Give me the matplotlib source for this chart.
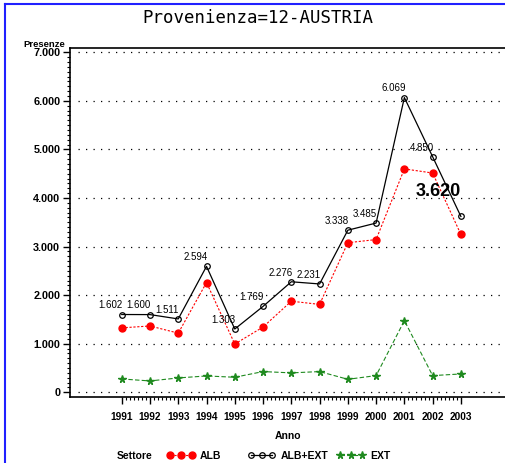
import matplotlib
matplotlib.use("Agg")
import matplotlib.pyplot as plt
import numpy as np
from matplotlib.lines import Line2D
from matplotlib.ticker import MultipleLocator, FuncFormatter, FixedLocator

years = [1991, 1992, 1993, 1994, 1995, 1996, 1997, 1998, 1999, 2000, 2001, 2002, 2003]
alb_ext = [1602, 1600, 1511, 2594, 1303, 1769, 2276, 2231, 3338, 3485, 6069, 4850, 3620]
alb = [1327, 1366, 1218, 2260, 994, 1344, 1876, 1810, 3080, 3145, 4600, 4515, 3250]
ext = [275, 234, 296, 337, 310, 427, 400, 427, 268, 344, 1476, 344, 378]

title = "Provenienza=12-AUSTRIA"
series_names = ["ALB", "ALB+EXT", "EXT"]
green = "#1f8a1f"


def it_thousands(v, _pos=None):
    return f"{int(round(v)):,}".replace(",", ".")


cond = dict(family="Liberation Sans", fontweight="bold")

styles = [
    dict(color="red", linestyle=(0, (2, 1.5)), linewidth=0.8, marker="o",
         markersize=5, markerfacecolor="red", markeredgecolor="red"),
    dict(color="black", linestyle="-", linewidth=0.9, marker="o", markersize=4,
         markerfacecolor="none", markeredgecolor="black", markeredgewidth=0.9),
    dict(color=green, linestyle=(0, (4, 2)), linewidth=0.8, marker="*",
         markersize=5.5, markerfacecolor=green, markeredgecolor=green),
]

fig = plt.figure(figsize=(5.05, 4.63), dpi=100)
ax = fig.add_axes([0.1386, 0.1425, 0.8614, 0.7538])

for vals, st in zip([alb, alb_ext, ext], styles):
    ax.plot(years, vals, **st)

for i, (x, y) in enumerate(zip(years, alb_ext)):
    if i == len(years) - 1:
        ax.annotate(it_thousands(y), (x, y), xytext=(-16, 12), textcoords="offset points",
                    ha="center", va="bottom", fontsize=13, fontweight="bold",
                    family="Liberation Sans")
    else:
        ax.annotate(it_thousands(y), (x, y), xytext=(-8, 3), textcoords="offset points",
                    ha="center", va="bottom", fontsize=7, family="Liberation Sans")

ax.set_xlim(1989.17, 2004.56)
ax.set_ylim(-97, 7089)
ax.set_xticks(years)
ax.xaxis.set_minor_locator(FixedLocator(np.linspace(years[0], years[-1], 7 * (len(years) - 1) + 1)))
ax.yaxis.set_major_locator(MultipleLocator(1000))
ax.yaxis.set_minor_locator(MultipleLocator(100))
ax.yaxis.set_major_formatter(FuncFormatter(it_thousands))
for y in range(0, 7001, 1000):
    ax.axhline(y, xmin=0.018, color="black", linestyle=(0, (1, 5)), linewidth=0.9, zorder=0)

ax.spines["right"].set_visible(False)
for s in ("left", "bottom", "top"):
    ax.spines[s].set_linewidth(1.2)
ax.tick_params(axis="y", which="major", length=5, width=1, pad=2)
ax.tick_params(axis="y", which="minor", length=2.5, width=0.8)
ax.tick_params(axis="x", which="major", length=5, width=1, pad=6)
ax.tick_params(axis="x", which="minor", length=2.5, width=0.8)
for lab in ax.get_xticklabels():
    lab.set(fontsize=7.3, **cond)
for lab in ax.get_yticklabels():
    lab.set(fontsize=7.8, **cond)

ax.set_xlabel("Anno", fontsize=7.5, labelpad=6, **cond)
fig.text(0.046, 0.903, "Presenze", fontsize=6.8, ha="left", va="center", **cond)
fig.text(0.511, 0.962, title, family="DejaVu Sans Mono", fontsize=12.5,
         ha="center", va="center")

fig.text(0.232, 0.015, "Settore", fontsize=7.5, ha="left", va="center", **cond)
for name, st, x0 in zip(series_names, styles, [0.330, 0.490, 0.668]):
    fig.legend([Line2D([], [], **st)], [name], loc="center left",
               bbox_to_anchor=(x0, 0.016), frameon=False, numpoints=3,
               handlelength=2.7, handletextpad=0.5,
               prop={"family": "Liberation Sans", "size": 7.5, "weight": "bold"},
               borderpad=0, borderaxespad=0)

fig.add_artist(Line2D([0.0099, 0.0099], [0, 0.991], transform=fig.transFigure,
                      color="#2020ff", linewidth=1.5))
fig.add_artist(Line2D([0.0099, 1], [0.991, 0.991], transform=fig.transFigure,
                      color="#2020ff", linewidth=1.5))

fig.savefig("out.png", dpi=100)
